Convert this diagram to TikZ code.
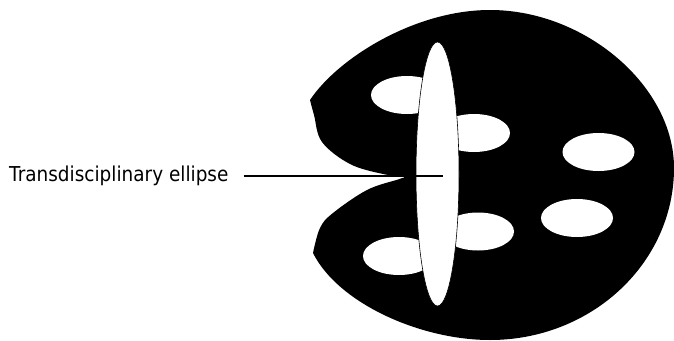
\documentclass[tikz,border=0pt]{standalone}
\usepackage{fontspec}
\setmainfont{DejaVu Sans}[FakeStretch=0.9]
\usetikzlibrary{shapes.geometric}
\begin{document}
\begin{tikzpicture}[x=1pt,y=-1pt,
  hole/.style={fill=white,draw=none},
  bigell/.style={fill=white,draw=black,line width=0.6pt},
  lbl/.style={inner sep=0pt,anchor=base west,font=\fontsize{20.5}{22}\selectfont}]
\useasboundingbox (0,0) rectangle (674,340);
% blob
\fill[black] (310,100) .. controls (338,58) and (415,10) .. (490,10)
  .. controls (585,10) and (674,86) .. (674,168)
  .. controls (674,263) and (591.6,340) .. (490,340)
  .. controls (420,340) and (338,303) .. (313,253)
  -- plot[smooth,tension=0.6] coordinates {(313,253) (320,228) (333,213) (367,190) (398,179.5) (404,177.5)}
  -- plot[smooth,tension=0.6] coordinates {(404,176.5) (383,174) (350,164) (322,142) (314,115) (310,100)}
  -- cycle;
% small holes
\path[hole] (407,95) ellipse [x radius=36,y radius=19];
\path[hole] (474,133) ellipse [x radius=36,y radius=19];
\path[hole] (598.5,152) ellipse [x radius=36,y radius=19];
\path[hole] (577,218) ellipse [x radius=36,y radius=19];
\path[hole] (478,231.5) ellipse [x radius=36,y radius=19];
\path[hole] (399,256) ellipse [x radius=36,y radius=19];
% transdisciplinary ellipse
\node[bigell,ellipse,minimum width=43pt,minimum height=264pt,inner sep=0pt] (te) at (437.5,174) {};
% label
\node[lbl] (lab) at (9,181) {Transdisciplinary ellipse};
\coordinate (le) at (443,176);
\draw[line width=1.8pt] ([xshift=15pt]lab.east |- le) -- (le);
\end{tikzpicture}
\end{document}
